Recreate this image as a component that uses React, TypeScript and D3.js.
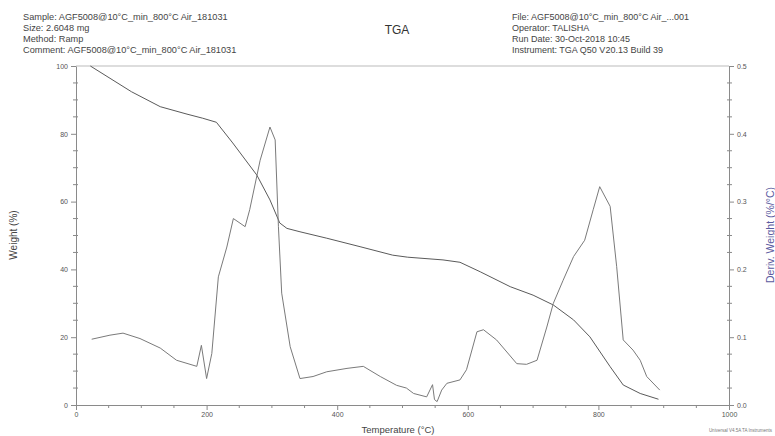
import React, { useEffect, useRef } from "react";
import * as d3 from "d3";

// weight curve, temperature (°C) vs weight (%)
const weightTemp = [22, 85, 129, 170, 194, 215, 240, 277, 297, 312, 323, 343, 384, 435, 485, 508, 562, 588, 619, 665, 700, 731, 762, 787, 818, 838, 864, 892];
const weightPct = [100, 92.4, 88.0, 85.8, 84.6, 83.4, 77.3, 67.8, 60.5, 53.7, 52.1, 51.1, 49.2, 46.7, 44.2, 43.6, 42.8, 42.1, 39.3, 34.9, 32.4, 29.5, 25.1, 20.1, 11.3, 5.9, 3.4, 1.7];

// derivative weight curve, temperature (°C) vs %/°C
const derivTemp = [24, 52, 72, 98, 129, 154, 185, 192, 200, 208, 218, 231, 241, 259, 266, 282, 297, 305, 310, 315, 328, 343, 363, 384, 415, 440, 466, 491, 506, 517, 537, 546, 549, 553, 560, 568, 588, 598, 614, 624, 644, 675, 690, 706, 721, 731, 746, 762, 779, 792, 802, 818, 828, 838, 853, 864, 874, 894];
const derivVal = [0.097, 0.103, 0.106, 0.098, 0.084, 0.066, 0.057, 0.088, 0.039, 0.076, 0.189, 0.233, 0.275, 0.263, 0.288, 0.361, 0.41, 0.391, 0.263, 0.165, 0.086, 0.039, 0.042, 0.049, 0.054, 0.057, 0.042, 0.029, 0.025, 0.017, 0.012, 0.03, 0.008, 0.005, 0.022, 0.032, 0.037, 0.052, 0.108, 0.111, 0.096, 0.061, 0.06, 0.066, 0.115, 0.15, 0.184, 0.219, 0.243, 0.288, 0.322, 0.293, 0.204, 0.096, 0.081, 0.066, 0.042, 0.022];

const xTicks = [0, 200, 400, 600, 800, 1000];
const weightTicks = [0, 20, 40, 60, 80, 100];
const derivTicks = [0.0, 0.1, 0.2, 0.3, 0.4, 0.5];

const headerLeft = [
  "Sample: AGF5008@10°C_min_800°C Air_181031",
  "Size: 2.6048 mg",
  "Method: Ramp",
  "Comment: AGF5008@10°C_min_800°C Air_181031",
];
const headerRight = [
  "File: AGF5008@10°C_min_800°C Air_...001",
  "Operator: TALISHA",
  "Run Date: 30-Oct-2018 10:45",
  "Instrument: TGA Q50 V20.13 Build 39",
];

const App = () => {
  const svgRef = useRef(null);

  useEffect(() => {
    const svg = d3.select(svgRef.current);
    svg.selectAll("*").remove();

    const left = 76, right = 729, top = 66, bottom = 405;
    const font = "Liberation Sans, Arial, sans-serif";
    const axisColor = "#8a8a8a";
    const labelColor = "#555";

    const x = d3.scaleLinear().domain([0, 1000]).range([left, right]);
    const yW = d3.scaleLinear().domain([0, 100]).range([bottom, top]);
    const yD = d3.scaleLinear().domain([0, 0.5]).range([bottom, top]);

    // header block
    headerLeft.forEach((t, i) => {
      svg.append("text").attr("x", 23).attr("y", 20 + i * 11)
        .style("font-family", font).style("font-size", "9.2px").attr("fill", "#444").text(t);
    });
    headerRight.forEach((t, i) => {
      svg.append("text").attr("x", 512).attr("y", 20 + i * 11)
        .style("font-family", font).style("font-size", "9px").attr("fill", "#444").text(t);
    });
    svg.append("text").attr("x", 397).attr("y", 34).attr("text-anchor", "middle")
      .style("font-family", font).style("font-size", "12px").attr("fill", "#333").text("TGA");

    // frame
    svg.append("line").attr("x1", left).attr("x2", right).attr("y1", top).attr("y2", top)
      .attr("stroke", "#bbb").attr("stroke-width", 1);

    // bottom axis
    const xAxis = d3.axisBottom(x).tickValues(xTicks).tickSize(5).tickSizeOuter(0).tickFormat(d3.format("d"));
    const gx = svg.append("g").attr("transform", `translate(0,${bottom})`).call(xAxis);
    gx.selectAll("text").style("font-family", font).style("font-size", "7px").attr("fill", labelColor).attr("dy", "0.55em");
    gx.selectAll("line").attr("stroke", axisColor);
    gx.select(".domain").attr("stroke", axisColor);
    gx.selectAll(".minor").data(d3.range(0, 1001, 50).filter(v => v % 200 !== 0)).enter()
      .append("line").attr("x1", d => x(d)).attr("x2", d => x(d)).attr("y1", 0).attr("y2", 3)
      .attr("stroke", axisColor);

    // left axis
    const yAxisL = d3.axisLeft(yW).tickValues(weightTicks).tickSize(5).tickSizeOuter(0).tickFormat(d3.format("d"));
    const gl = svg.append("g").attr("transform", `translate(${left},0)`).call(yAxisL);
    gl.selectAll("text").style("font-family", font).style("font-size", "7px").attr("fill", labelColor);
    gl.selectAll("line").attr("stroke", axisColor);
    gl.select(".domain").attr("stroke", axisColor);
    gl.selectAll(".minor").data(d3.range(0, 101, 5).filter(v => v % 20 !== 0)).enter()
      .append("line").attr("x1", -3).attr("x2", 2).attr("y1", d => yW(d)).attr("y2", d => yW(d))
      .attr("stroke", axisColor);

    // right axis
    const yAxisR = d3.axisRight(yD).tickValues(derivTicks).tickSize(5).tickSizeOuter(0).tickFormat(d3.format(".1f"));
    const gr = svg.append("g").attr("transform", `translate(${right},0)`).call(yAxisR);
    gr.selectAll("text").style("font-family", font).style("font-size", "7px").attr("fill", labelColor);
    gr.selectAll("line").attr("stroke", axisColor);
    gr.select(".domain").attr("stroke", axisColor);
    gr.selectAll(".minor").data(d3.range(0, 0.501, 0.025).filter((v, i) => i % 4 !== 0)).enter()
      .append("line").attr("x1", -2).attr("x2", 3).attr("y1", d => yD(d)).attr("y2", d => yD(d))
      .attr("stroke", axisColor);

    // axis titles
    svg.append("text").attr("transform", `translate(17,235) rotate(-90)`).attr("text-anchor", "middle")
      .style("font-family", font).style("font-size", "10px").attr("fill", "#444").text("Weight (%)");
    svg.append("text").attr("transform", `translate(774,235) rotate(-90)`).attr("text-anchor", "middle")
      .style("font-family", font).style("font-size", "10.5px").attr("fill", "#5a5aa0").text("Deriv. Weight (%/°C)");
    svg.append("text").attr("x", 398).attr("y", 433).attr("text-anchor", "middle")
      .style("font-family", font).style("font-size", "9.5px").attr("fill", "#444").text("Temperature (°C)");
    svg.append("text").attr("x", 772).attr("y", 432).attr("text-anchor", "end")
      .style("font-family", font).style("font-size", "4.5px").attr("fill", "#777").text("Universal V4.5A TA Instruments");

    // curves
    const weightData = weightTemp.map((t, i) => [t, weightPct[i]]);
    const derivData = derivTemp.map((t, i) => [t, derivVal[i]]);

    svg.append("path").datum(weightData)
      .attr("d", d3.line().x(d => x(d[0])).y(d => yW(d[1])))
      .attr("fill", "none").attr("stroke", "#5a5a5a").attr("stroke-width", 1);

    svg.append("path").datum(derivData)
      .attr("d", d3.line().x(d => x(d[0])).y(d => yD(d[1])))
      .attr("fill", "none").attr("stroke", "#7a7a7a").attr("stroke-width", 1);
  }, []);

  return (
    <div style={{ position: "absolute", left: 0, top: 0 }}>
      <svg ref={svgRef} width={775} height={436} style={{ display: "block", background: "#fff" }}></svg>
    </div>
  );
};

export default App;
